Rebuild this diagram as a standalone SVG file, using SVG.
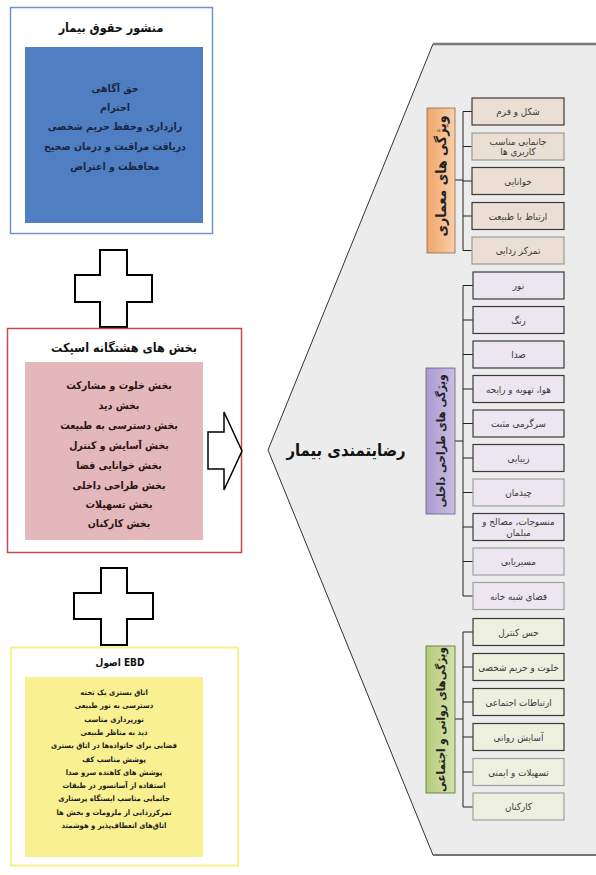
<svg xmlns="http://www.w3.org/2000/svg" width="596" height="875" viewBox="0 0 596 875">
<defs>
<style>
text{font-family:"DejaVu Sans Condensed","DejaVu Sans","Noto Sans",sans-serif;font-stretch:condensed;text-anchor:middle;}
.t{font-weight:bold;font-size:12.5px;fill:#111;}
.bl{font-weight:bold;font-size:10.5px;fill:#1a2744;}
.pk{font-weight:bold;font-size:10.5px;fill:#2a1414;}
.yl{font-weight:bold;font-size:7.6px;fill:#1a1a1a;}
.it{font-size:9.8px;fill:#3a3a3a;}
.gl{font-weight:bold;font-size:11.5px;fill:#222;}
.plus{fill:#fff;stroke:#000;stroke-width:2;}
.c{stroke:#222;stroke-width:1;fill:none;}
.i1{fill:#eadfd2;stroke:#3a3a3a;stroke-width:1.2;}
.i2{fill:#ebe6ef;stroke:#3a3a3a;stroke-width:1.2;}
.i3{fill:#edf0df;stroke:#3a3a3a;stroke-width:1.2;}
</style>
<linearGradient id="go" x1="0" y1="0" x2="1" y2="0"><stop offset="0" stop-color="#f0a56a"/><stop offset="1" stop-color="#f9cfa8"/></linearGradient>
<linearGradient id="gp" x1="0" y1="0" x2="1" y2="0"><stop offset="0" stop-color="#a99ad0"/><stop offset="1" stop-color="#c9bee3"/></linearGradient>
<linearGradient id="gg" x1="0" y1="0" x2="1" y2="0"><stop offset="0" stop-color="#b4cc7c"/><stop offset="1" stop-color="#d3e2ad"/></linearGradient>
</defs>
<rect width="596" height="875" fill="#ffffff"/>

<!-- big panel -->
<g id="panel">
<polygon points="433,44 600,44 600,855 433,855 268,450" fill="#ececec" stroke="#333" stroke-width="1"/>
<line x1="433" y1="44" x2="596" y2="44" stroke="#7a7a7a" stroke-width="2.5"/>
<line x1="433" y1="855" x2="596" y2="855" stroke="#6a6a6a" stroke-width="1.5"/>
<text x="346" y="456" style="font-weight:bold;font-size:16.5px;fill:#111">رضایتمندی بیمار</text>
</g>

<!-- patient rights charter -->
<g id="charter">
<rect x="10.5" y="7.5" width="202" height="226" fill="#fff" stroke="#6f93d0" stroke-width="1.5"/>
<text class="t" x="111" y="32">منشور حقوق بیمار</text>
<rect x="25" y="47" width="178" height="176" fill="#4f7fc2"/>
<text class="bl" x="115" y="92">حق آگاهی</text>
<text class="bl" x="115" y="111">احترام</text>
<text class="bl" x="115" y="130">رازداری وحفظ حریم شخصی</text>
<text class="bl" x="115" y="150">دریافت مراقبت و درمان صحیح</text>
<text class="bl" x="115" y="170">محافظت و اعتراض</text>
</g>

<g id="plus1"><polygon class="plus" points="100,250 127,250 127,275 152,275 152,302 127,302 127,327 100,327 100,302 75,302 75,275 100,275"/></g>

<!-- ASPECT -->
<g id="aspect">
<rect x="7.5" y="328.5" width="234" height="224" fill="#fff" stroke="#c8474f" stroke-width="1.5"/>
<text class="t" x="124" y="352">بخش های هشتگانه اسپکت</text>
<rect x="25" y="362" width="178" height="178" fill="#e4b7ba"/>
<text class="pk" x="119" y="389">بخش خلوت و مشارکت</text>
<text class="pk" x="119" y="409">بخش دید</text>
<text class="pk" x="119" y="429">بخش دسترسی به طبیعت</text>
<text class="pk" x="119" y="449">بخش آسایش و کنترل</text>
<text class="pk" x="119" y="469">بخش خوانایی فضا</text>
<text class="pk" x="119" y="489">بخش طراحی داخلی</text>
<text class="pk" x="119" y="508">بخش تسهیلات</text>
<text class="pk" x="119" y="527">بخش کارکنان</text>
<polygon points="208,432 224,432 224,412 242,451 224,490 224,469 208,469" fill="#fff" stroke="#000" stroke-width="1.5"/>
</g>

<g id="plus2"><polygon class="plus" points="101,568 127,568 127,593 153,593 153,619 127,619 127,645 101,645 101,619 74,619 74,593 101,593"/></g>

<!-- EBD -->
<g id="ebd">
<rect x="11" y="647.5" width="227" height="218" fill="#fff" stroke="#f6f38a" stroke-width="2"/>
<text x="120" y="666" style="font-weight:bold;font-size:10px;fill:#111">اصول EBD</text>
<rect x="25" y="677" width="178" height="180" fill="#f8f091"/>
<text class="yl" x="114" y="695">اتاق بستری یک تخته</text>
<text class="yl" x="114" y="708.3">دسترسی به نور طبیعی</text>
<text class="yl" x="114" y="721.6">نورپردازی مناسب</text>
<text class="yl" x="114" y="734.9">دید به مناظر طبیعی</text>
<text class="yl" x="114" y="748.2">فضایی برای خانواده‌ها در اتاق بستری</text>
<text class="yl" x="114" y="761.5">پوشش مناسب کف</text>
<text class="yl" x="114" y="774.8">پوشش های کاهنده سرو صدا</text>
<text class="yl" x="114" y="788.1">استفاده از آسانسور در طبقات</text>
<text class="yl" x="114" y="801.4">جانمایی مناسب ایستگاه پرستاری</text>
<text class="yl" x="114" y="814.7">تمرکززدایی از ملزومات و بخش ها</text>
<text class="yl" x="114" y="828">اتاق‌های انعطاف‌پذیر و هوشمند</text>
</g>

<!-- connectors -->
<g id="connectors">
<path class="c" d="M455,180 H463 M463,111.5 V250.5 M463,111.5 H472 M463,146.5 H472 M463,181 H472 M463,216 H472 M463,250.5 H472"/>
<path class="c" d="M455,441 H463 M463,285.5 V596 M463,285.5 H473 M463,320 H473 M463,354.5 H473 M463,389 H473 M463,423.5 H473 M463,458 H473 M463,492.5 H473 M463,527 H473 M463,561.5 H473 M463,596 H473"/>
<path class="c" d="M455,719 H463 M463,632 V807 M463,632 H473 M463,667 H473 M463,702 H473 M463,737 H473 M463,772 H473 M463,807 H473"/>
</g>

<!-- group 1 -->
<g id="g-arch">
<rect x="427" y="108" width="28" height="145" fill="url(#go)" stroke="#8a6a50" stroke-width="0.8"/>
<text class="gl" transform="translate(446,176) rotate(-90)" style="font-size:14px">ویژگی های معماری</text>
</g>
<g id="a1"><rect class="i1" x="472" y="98" width="92" height="27"/><text class="it" x="518" y="115">شکل و فرم</text></g>
<g id="a2"><rect class="i1" x="472" y="133" width="92" height="27" style="stroke:#9a9a9a"/><text class="it" x="518" y="144.5">جانمایی مناسب</text><text class="it" x="518" y="154.5">کاربری ها</text></g>
<g id="a3"><rect class="i1" x="472" y="167.5" width="92" height="27"/><text class="it" x="518" y="184.5">خوانایی</text></g>
<g id="a4"><rect class="i1" x="472" y="202.5" width="92" height="27"/><text class="it" x="518" y="219.5">ارتباط با طبیعت</text></g>
<g id="a5"><rect class="i1" x="472" y="237" width="92" height="27" style="stroke:#9a9a9a"/><text class="it" x="518" y="254">تمرکز زدایی</text></g>

<!-- group 2 -->
<g id="g-interior">
<rect x="426" y="368" width="29" height="146" fill="url(#gp)" stroke="#6a5a80" stroke-width="0.8"/>
<text class="gl" transform="translate(444.5,441) rotate(-90)">ویژگی های طراحی داخلی</text>
</g>
<g id="b1"><rect class="i2" x="473" y="272" width="91" height="27"/><text class="it" x="518.5" y="289">نور</text></g>
<g id="b2"><rect class="i2" x="473" y="306.5" width="91" height="27"/><text class="it" x="518.5" y="323.5">رنگ</text></g>
<g id="b3"><rect class="i2" x="473" y="341" width="91" height="27"/><text class="it" x="518.5" y="358">صدا</text></g>
<g id="b4"><rect class="i2" x="473" y="375.5" width="91" height="27"/><text class="it" x="518.5" y="392.5">هوا، تهویه و رایحه</text></g>
<g id="b5"><rect class="i2" x="473" y="410" width="91" height="27"/><text class="it" x="518.5" y="427">سرگرمی مثبت</text></g>
<g id="b6"><rect class="i2" x="473" y="444.5" width="91" height="27"/><text class="it" x="518.5" y="461.5">زیبایی</text></g>
<g id="b7"><rect class="i2" x="473" y="479" width="91" height="27" style="stroke:#a0a0a0"/><text class="it" x="518.5" y="496">چیدمان</text></g>
<g id="b8"><rect class="i2" x="473" y="513.5" width="91" height="27"/><text class="it" x="518.5" y="525">منسوجات، مصالح و</text><text class="it" x="518.5" y="535.5">مبلمان</text></g>
<g id="b9"><rect class="i2" x="473" y="548" width="91" height="27" style="stroke:#a0a0a0"/><text class="it" x="518.5" y="565">مسیریابی</text></g>
<g id="b10"><rect class="i2" x="473" y="582.5" width="91" height="27" style="stroke:#a0a0a0"/><text class="it" x="518.5" y="599.5">فضای شبه خانه</text></g>

<!-- group 3 -->
<g id="g-psych">
<rect x="426" y="646" width="29" height="147" fill="url(#gg)" stroke="#5a6a30" stroke-width="0.8"/>
<text class="gl" transform="translate(444.5,719.5) rotate(-90)">ویژگی‌های روانی و اجتماعی</text>
</g>
<g id="c1"><rect class="i3" x="473" y="618.5" width="91" height="27"/><text class="it" x="518.5" y="635.5">حس کنترل</text></g>
<g id="c2"><rect class="i3" x="473" y="653.5" width="91" height="27"/><text class="it" x="518.5" y="670.5">خلوت و حریم شخصی</text></g>
<g id="c3"><rect class="i3" x="473" y="688.5" width="91" height="27"/><text class="it" x="518.5" y="705.5">ارتباطات اجتماعی</text></g>
<g id="c4"><rect class="i3" x="473" y="723.5" width="91" height="27"/><text class="it" x="518.5" y="740.5">آسایش روانی</text></g>
<g id="c5"><rect class="i3" x="473" y="758.5" width="91" height="27" style="stroke:#a0a0a0"/><text class="it" x="518.5" y="775.5">تسهیلات و ایمنی</text></g>
<g id="c6"><rect class="i3" x="473" y="793" width="91" height="27" style="stroke:#a0a0a0"/><text class="it" x="518.5" y="810">کارکنان</text></g>
</svg>
